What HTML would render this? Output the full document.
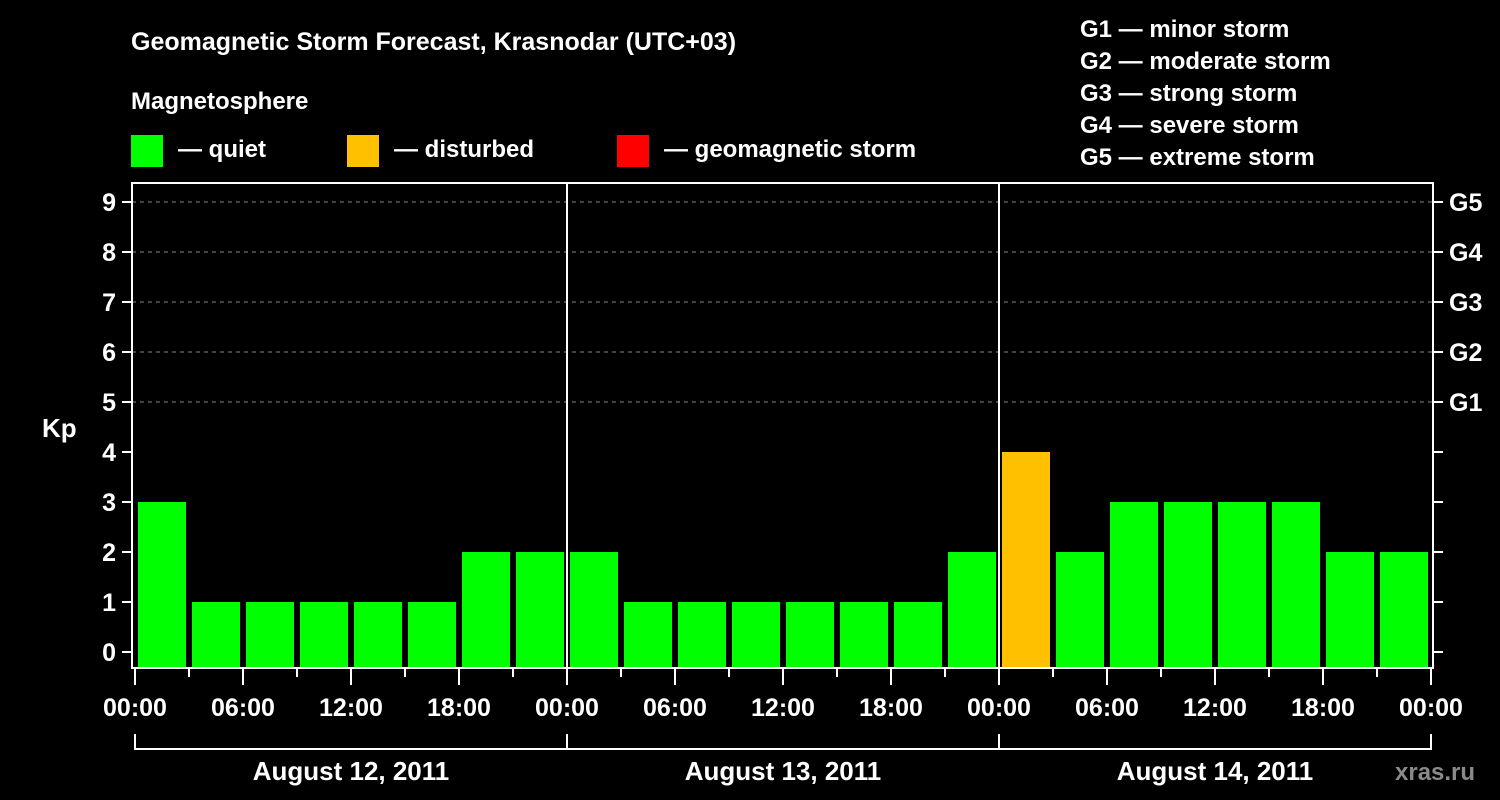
<!DOCTYPE html>
<html><head><meta charset="utf-8"><style>
html,body{margin:0;padding:0;background:#000;width:1500px;height:800px;overflow:hidden}
svg text{font-family:"Liberation Sans",Arial,sans-serif;font-weight:bold;fill:#fff}
</style></head><body>
<svg id="chart" width="1500" height="800" viewBox="0 0 1500 800" xmlns="http://www.w3.org/2000/svg">
<rect width="1500" height="800" fill="#000"/>
<text x="131" y="50" font-size="25">Geomagnetic Storm Forecast, Krasnodar (UTC+03)</text>
<text x="131" y="109" font-size="24">Magnetosphere</text>
<g>
<rect x="131" y="135" width="32" height="32" fill="#00ff00"/>
<text x="178" y="157" font-size="24">— quiet</text>
<rect x="347" y="135" width="32" height="32" fill="#ffc000"/>
<text x="394" y="157" font-size="24">— disturbed</text>
<rect x="617" y="135" width="32" height="32" fill="#ff0000"/>
<text x="664" y="157" font-size="24">— geomagnetic storm</text>
</g>
<g font-size="24">
<text x="1080" y="37">G1 — minor storm</text>
<text x="1080" y="69">G2 — moderate storm</text>
<text x="1080" y="101">G3 — strong storm</text>
<text x="1080" y="133">G4 — severe storm</text>
<text x="1080" y="165">G5 — extreme storm</text>
</g>
<text x="42" y="437" font-size="26">Kp</text>
<text x="1395" y="780" font-size="24" fill="#888" style="fill:#8a8a8a">xras.ru</text>
<g id="plot"></g>
</svg>
<script>
const kpValues = [3,1,1,1,1,1,2,2, 2,1,1,1,1,1,1,2, 4,2,3,3,3,3,2,2];
const dayLabels = ["August 12, 2011","August 13, 2011","August 14, 2011"];
const timeLabels = ["00:00","06:00","12:00","18:00"];
const yTicks = [0,1,2,3,4,5,6,7,8,9];
const gLabels = ["G1","G2","G3","G4","G5"];

const NS="http://www.w3.org/2000/svg";
const plot=document.getElementById('plot');
const X0=135, SLOT=54, Y0=652, UNIT=50, LEFT=132, RIGHT=1433, TOP=183, BOTTOM=668;
const xs=i=>X0+i*SLOT;
const ys=v=>Y0-v*UNIT;
function mk(tag,attrs,parent){const e=document.createElementNS(NS,tag);for(const k in attrs)e.setAttribute(k,attrs[k]);(parent||plot).appendChild(e);return e;}
function color(v){return v>=5?'#ff0000':(v>=4?'#ffc000':'#00ff00');}

// grid
for(let v=5;v<=9;v++){
  const l=mk('line',{x1:LEFT,x2:RIGHT,y1:ys(v),y2:ys(v),stroke:'#888','stroke-dasharray':'4,4','stroke-width':1});
  
  
}
// bars
kpValues.forEach((v,i)=>{
  const r=mk('rect',{x:xs(i)+3,y:ys(v),width:48,height:BOTTOM-ys(v),fill:color(v)});
  
  
});
// frame
const fr=mk('rect',{x:LEFT,y:TOP,width:RIGHT-LEFT,height:BOTTOM-TOP,fill:'none',stroke:'#fff','stroke-width':2});


// day dividers
for(let d=1;d<dayLabels.length;d++){
  const l=mk('line',{x1:xs(d*8),x2:xs(d*8),y1:TOP,y2:BOTTOM,stroke:'#fff','stroke-width':2});
  
  
}
// y ticks
yTicks.forEach(v=>{
  const t=mk('line',{x1:122,x2:LEFT,y1:ys(v),y2:ys(v),stroke:'#fff','stroke-width':2});
  
  
  const tx=mk('text',{x:116,y:ys(v)+9,'text-anchor':'end','font-size':25});
  tx.textContent=v;
  
  
  const t2=mk('line',{x1:RIGHT,x2:1443,y1:ys(v),y2:ys(v),stroke:'#fff','stroke-width':2});
  
  
});
gLabels.forEach((g,i)=>{
  const tx=mk('text',{x:1449,y:ys(5+i)+9,'font-size':25});
  tx.textContent=g;
  
  
});
// x ticks
for(let i=0;i<=kpValues.length;i++){
  const major=i%2===0;
  const t=mk('line',{x1:xs(i),x2:xs(i),y1:BOTTOM,y2:major?685:677,stroke:'#fff','stroke-width':2});
  
  
  if(major){
    const tx=mk('text',{x:xs(i),y:716,'text-anchor':'middle','font-size':25});
    tx.textContent=timeLabels[(i/2)%4];
    
    
  }
}
// day brackets
const br=mk('line',{x1:xs(0),x2:xs(kpValues.length),y1:749,y2:749,stroke:'#fff','stroke-width':2});


for(let d=0;d<=dayLabels.length;d++){
  const t=mk('line',{x1:xs(d*8),x2:xs(d*8),y1:734,y2:750,stroke:'#fff','stroke-width':2});
  
  
}
dayLabels.forEach((d,i)=>{
  const tx=mk('text',{x:xs(i*8+4),y:780,'text-anchor':'middle','font-size':26});
  tx.textContent=d;
  
  
});
</script>
</body></html>
